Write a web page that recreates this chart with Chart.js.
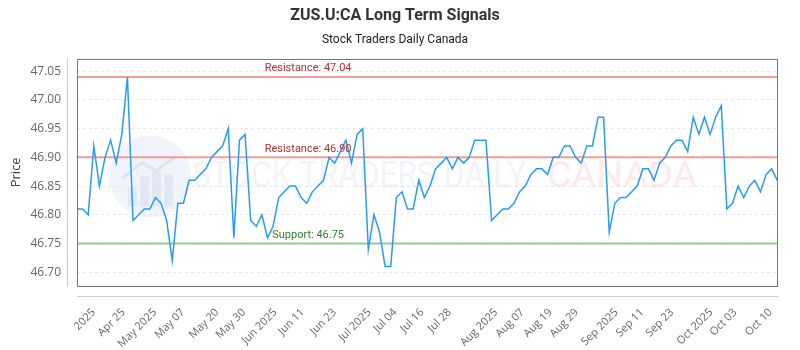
<!DOCTYPE html>
<html>
<head>
<meta charset="utf-8">
<script src="https://cdn.jsdelivr.net/npm/chart.js@4.4.0/dist/chart.umd.min.js"></script>
<style>
  html, body { margin: 0; padding: 0; background: #fff; }
  #wrap { width: 800px; height: 350px; }
</style>
</head>
<body>
<div id="wrap"><canvas id="chart"></canvas></div>
<script>
// Daily closing prices (126 points)
const prices = [
  46.81, 46.81, 46.80, 46.92, 46.85, 46.90, 46.93, 46.89, 46.94, 47.04,
  46.79, 46.80, 46.81, 46.81, 46.83, 46.82, 46.79, 46.72, 46.82, 46.82,
  46.86, 46.86, 46.87, 46.88, 46.90, 46.91, 46.92, 46.95, 46.76, 46.93,
  46.94, 46.79, 46.78, 46.80, 46.76, 46.78, 46.83, 46.84, 46.85, 46.85,
  46.83, 46.82, 46.84, 46.85, 46.86, 46.90, 46.89, 46.91, 46.93, 46.89,
  46.94, 46.95, 46.74, 46.80, 46.77, 46.71, 46.71, 46.83, 46.84, 46.81,
  46.81, 46.86, 46.83, 46.85, 46.88, 46.89, 46.90, 46.88, 46.90, 46.89,
  46.90, 46.93, 46.93, 46.93, 46.79, 46.80, 46.81, 46.81, 46.82, 46.84,
  46.85, 46.87, 46.88, 46.88, 46.87, 46.90, 46.90, 46.92, 46.92, 46.90,
  46.89, 46.92, 46.92, 46.97, 46.97, 46.77, 46.82, 46.83, 46.83, 46.84,
  46.85, 46.88, 46.88, 46.86, 46.89, 46.90, 46.92, 46.93, 46.93, 46.91,
  46.97, 46.94, 46.97, 46.94, 46.97, 46.99, 46.81, 46.82, 46.85, 46.83,
  46.85, 46.86, 46.84, 46.87, 46.88, 46.86
];

// x tick labels and where they fall (in point index units)
const xTickLabels = ['2025', 'Apr 25', 'May 2025', 'May 07', 'May 20', 'May 30', 'Jun 2025',
  'Jun 11', 'Jun 23', 'Jul 2025', 'Jul 04', 'Jul 16', 'Jul 28', 'Aug 2025', 'Aug 07',
  'Aug 19', 'Aug 29', 'Sep 2025', 'Sep 11', 'Sep 23', 'Oct 2025', 'Oct 03', 'Oct 10'];
const xTickIndex = [3.0, 8.3, 13.9, 18.9, 25.0, 29.8, 35.4, 40.3, 46.0, 52.2, 56.8, 61.6,
  66.5, 74.8, 79.5, 84.5, 89.2, 96.3, 100.9, 106.2, 113.2, 117.5, 123.8];

const yTicks = [46.70, 46.75, 46.80, 46.85, 46.90, 46.95, 47.00, 47.05];

const resistanceHigh = 47.04;
const resistanceLow = 46.90;
const support = 46.75;

const lastIdx = prices.length - 1;
const flat = v => [{ x: 0, y: v }, { x: lastIdx, y: v }];

const signalLines = [
  { text: 'Resistance: ' + resistanceHigh.toFixed(2), value: resistanceHigh, color: '#b0322e' },
  { text: 'Resistance: ' + resistanceLow.toFixed(2), value: resistanceLow, color: '#b0322e' },
  { text: 'Support: ' + support.toFixed(2), value: support, color: '#2e7d32' }
];

// watermark, frame, offset axis lines and the level labels
const decor = {
  id: 'decor',
  beforeDatasetsDraw(chart) {
    const { ctx, chartArea: a } = chart;
    ctx.save();
    // logo circle
    const cx = a.left + 73, cy = a.top + 118, r = 41;
    ctx.fillStyle = 'rgba(210,218,238,0.3)';
    ctx.beginPath(); ctx.arc(cx, cy, r, 0, Math.PI * 2); ctx.fill();
    ctx.fillStyle = 'rgba(240,243,250,0.5)';
    ctx.beginPath(); ctx.arc(cx, cy, r - 7, 0, Math.PI * 2); ctx.fill();
    ctx.fillStyle = 'rgba(200,210,230,0.35)';
    [[-22, 10], [-10, 0], [2, -6], [14, -2]].forEach(([dx, dy]) => {
      ctx.fillRect(cx + dx, cy + dy, 9, 30 - dy);
    });
    ctx.strokeStyle = 'rgba(200,210,230,0.45)';
    ctx.lineWidth = 3;
    ctx.beginPath();
    ctx.moveTo(cx - 28, cy + 2); ctx.lineTo(cx - 8, cy - 14); ctx.lineTo(cx + 6, cy - 6); ctx.lineTo(cx + 26, cy - 20);
    ctx.stroke();

    // watermark text
    ctx.font = '37px Roboto';
    ctx.textBaseline = 'middle';
    const t1 = 'STOCK TRADERS DAILY', t2 = 'CANADA';
    const w1 = ctx.measureText(t1).width, w2 = ctx.measureText(t2).width;
    const ty = a.top + 119;
    ctx.save();
    ctx.translate(a.left + 115, ty);
    ctx.scale(334 / w1, 1);
    ctx.fillStyle = 'rgba(190,202,225,0.2)';
    ctx.fillText(t1, 0, 0);
    ctx.restore();
    ctx.save();
    ctx.translate(a.left + 470, ty);
    ctx.scale(150 / w2, 1);
    ctx.fillStyle = 'rgba(250,150,150,0.2)';
    ctx.fillText(t2, 0, 0);
    ctx.restore();
    ctx.restore();
  },
  afterDatasetsDraw(chart) {
    const { ctx, chartArea: a, scales } = chart;
    ctx.save();
    ctx.font = '11px Roboto';
    ctx.textAlign = 'center';
    ctx.textBaseline = 'bottom';
    const lx = a.left + (a.right - a.left) * 0.33;
    signalLines.forEach(s => {
      ctx.fillStyle = s.color;
      ctx.fillText(s.text, lx, scales.y.getPixelForValue(s.value) - 3);
    });
    ctx.restore();
  },
  afterDraw(chart) {
    const { ctx, chartArea: a } = chart;
    ctx.save();
    ctx.lineWidth = 1;
    ctx.strokeStyle = '#777';
    ctx.strokeRect(Math.round(a.left) + 0.5, Math.round(a.top) + 0.5,
      Math.round(a.right - a.left), Math.round(a.bottom - a.top));
    ctx.strokeStyle = '#ccc';
    ctx.beginPath();
    ctx.moveTo(Math.round(a.left) - 9.5, a.top);
    ctx.lineTo(Math.round(a.left) - 9.5, a.bottom + 1);
    ctx.moveTo(a.left, Math.round(a.bottom) + 10.5);
    ctx.lineTo(a.right + 1, Math.round(a.bottom) + 10.5);
    ctx.stroke();
    ctx.restore();
  }
};

new Chart(document.getElementById('chart'), {
  type: 'line',
  data: {
    datasets: [
      {
        data: prices.map((v, i) => ({ x: i, y: v })),
        borderColor: 'rgb(40,155,245)',
        borderWidth: 1.5,
        pointRadius: 0,
        tension: 0,
        order: 1
      },
      { data: flat(resistanceHigh), borderColor: 'rgba(240,135,125,0.8)', borderWidth: 2, pointRadius: 0, order: 2 },
      { data: flat(resistanceLow), borderColor: 'rgba(240,135,125,0.8)', borderWidth: 2, pointRadius: 0, order: 2 },
      { data: flat(support), borderColor: 'rgba(125,192,125,0.8)', borderWidth: 2, pointRadius: 0, order: 2 }
    ]
  },
  options: {
    responsive: true,
    maintainAspectRatio: false,
    animation: false,
    layout: { padding: { left: 0, right: 10, top: 0, bottom: 0 } },
    plugins: {
      legend: { display: false },
      tooltip: { enabled: false },
      title: {
        display: true,
        text: 'ZUS.U:CA Long Term Signals',
        color: '#333',
        font: { family: 'Roboto', size: 16, weight: 'bold' },
        padding: { top: 6, bottom: 4 }
      },
      subtitle: {
        display: true,
        text: 'Stock Traders Daily Canada',
        color: '#222',
        font: { family: 'Roboto', size: 12 },
        padding: { top: 4, bottom: 11 }
      }
    },
    scales: {
      x: {
        type: 'linear',
        min: 0,
        max: lastIdx,
        afterBuildTicks: s => { s.ticks = xTickIndex.map(v => ({ value: v })); },
        afterFit: s => { s.height = 64; },
        grid: { display: false, drawTicks: false },
        border: { display: false },
        ticks: {
          autoSkip: false,
          minRotation: 45,
          maxRotation: 45,
          padding: 20,
          color: '#666',
          font: { family: 'Open Sans', size: 11 },
          callback: (v, i) => xTickLabels[i]
        }
      },
      y: {
        min: 46.676,
        max: 47.072,
        afterBuildTicks: s => { s.ticks = yTicks.map(v => ({ value: v })); },
        afterFit: s => { s.width = 77; },
        grid: { color: 'rgba(0,0,0,0.09)', drawTicks: false },
        border: { display: false, dash: [3, 3] },
        title: {
          display: true,
          text: 'Price',
          color: '#444',
          font: { family: 'Open Sans', size: 13 },
          padding: { top: 8, bottom: 0 }
        },
        ticks: {
          padding: 16,
          color: '#666',
          font: { family: 'Open Sans', size: 12 },
          callback: v => v.toFixed(2)
        }
      }
    }
  },
  plugins: [decor]
});
</script>
</body>
</html>
